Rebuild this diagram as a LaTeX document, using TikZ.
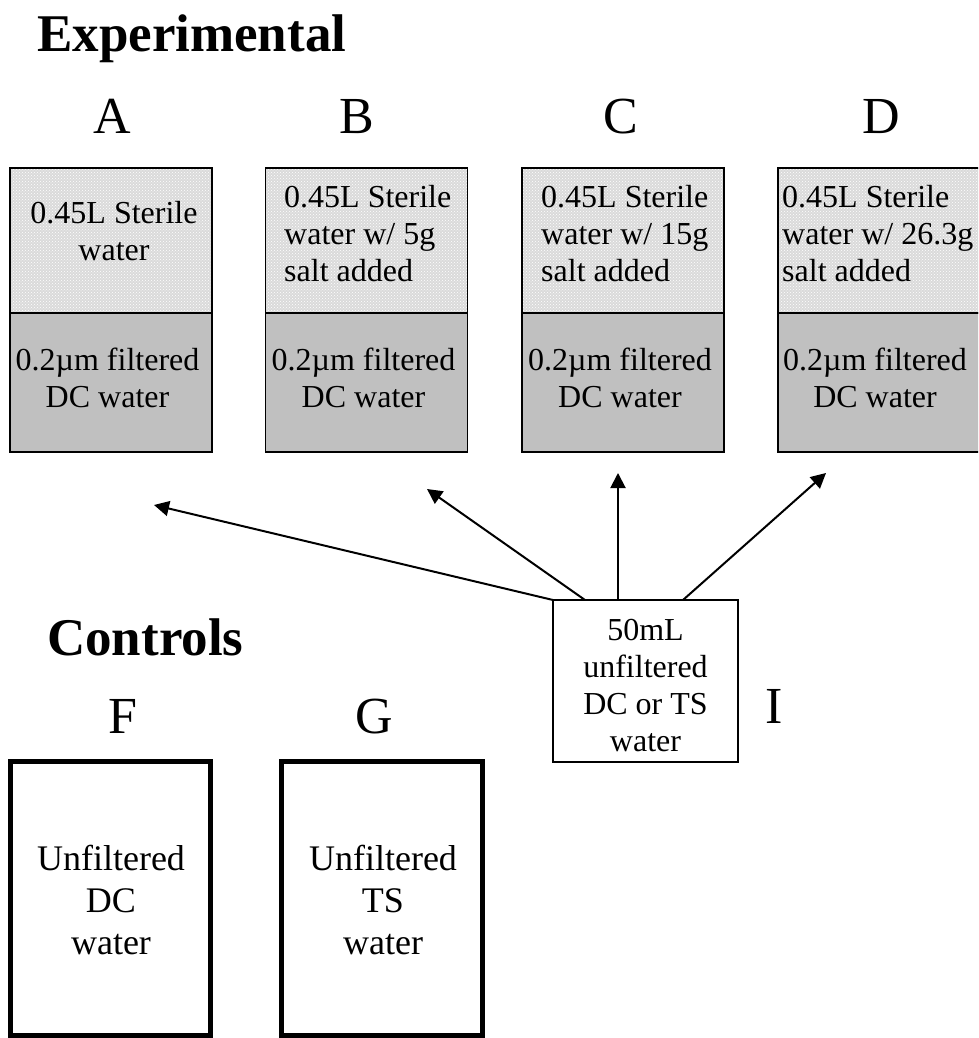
\documentclass[tikz,border=0pt]{standalone}
\usepackage{fontspec}
\setmainfont{Liberation Serif}
\usetikzlibrary{arrows.meta,patterns}
\newcommand{\myst}{\rule{0pt}{24pt}}
\newcommand{\mystb}{\rule{0pt}{27pt}}
\definecolor{darkfill}{RGB}{192,192,192}
\definecolor{lightfill}{RGB}{218,218,218}
\begin{document}
\begin{tikzpicture}[x=1pt,y=-1pt,
  upbox/.style={draw, line width=1.6pt, preaction={fill=lightfill}, pattern=crosshatch dots, pattern color=white,
    minimum width=202pt, minimum height=145pt, inner sep=0pt, outer sep=0pt},
  lowbox/.style={draw, line width=1.6pt, fill=darkfill,
    minimum width=202pt, minimum height=139pt, inner sep=0pt, outer sep=0pt},
  ctrlbox/.style={draw, line width=5pt, minimum width=200pt, minimum height=273.5pt, inner sep=0pt, outer sep=0pt},
  srcbox/.style={draw, line width=2pt, minimum width=185pt, minimum height=162pt, inner sep=0pt, outer sep=0pt},
  boxtxt/.style={font=\fontsize{32}{37}\selectfont, inner sep=0pt},
  ctrltxt/.style={font=\fontsize{36}{42}\selectfont, inner sep=0pt, align=center, anchor=north},
  letter/.style={font=\fontsize{52}{60}\selectfont, inner sep=0pt, anchor=base},
  heading/.style={font=\fontsize{53}{60}\selectfont\bfseries, inner sep=0pt, anchor=base west},
  arr/.style={line width=2pt, -{Triangle[length=15pt,width=15pt]}}
]
\useasboundingbox (0,0) rectangle (978,1038);
\clip (0,0) rectangle (978,1038);

% headings
\node[heading] (hexp) at (37,52) {Experimental};
\node[heading] (hctl) at (47,655) {Controls};

% letters
\node[letter] (lA) at (112,133) {A};
\node[letter] (lB) at (357,133) {B};
\node[letter] (lC) at (621,133) {C};
\node[letter] (lD) at (881,133) {D};
\node[letter] (lF) at (123,733) {F};
\node[letter] (lG) at (374,733) {G};
\node[letter] (lI) at (774,723) {I};

% experimental boxes
\node[upbox] (Au) at (111,240.5) {};
\node[lowbox] (Al) at (111,382.5) {};
\node[upbox] (Bu) at (366.5,240.5) {};
\node[lowbox] (Bl) at (366.5,382.5) {};
\node[upbox] (Cu) at (623,240.5) {};
\node[lowbox] (Cl) at (623,382.5) {};
\node[upbox] (Du) at (879,240.5) {};
\node[lowbox] (Dl) at (879,382.5) {};

% texts in experimental boxes
\node[boxtxt, align=center, anchor=north] (Aut) at (114,199) {\myst 0.45L Sterile\\water};
\node[boxtxt, align=center, anchor=north] (Alt) at (107.5,346) {\myst 0.2µm filtered\\DC water};
\node[boxtxt, align=left, anchor=north west] (But) at (284,183) {\myst 0.45L Sterile\\water w/ 5g\\salt added};
\node[boxtxt, align=center, anchor=north] (Blt) at (363.5,346) {\myst 0.2µm filtered\\DC water};
\node[boxtxt, align=left, anchor=north west] (Cut) at (541,183) {\myst 0.45L Sterile\\water w/ 15g\\salt added};
\node[boxtxt, align=center, anchor=north] (Clt) at (620,346) {\myst 0.2µm filtered\\DC water};
\node[boxtxt, align=left, anchor=north west] (Dut) at (782,183) {\myst 0.45L Sterile\\water w/ 26.3g\\salt added};
\node[boxtxt, align=center, anchor=north] (Dlt) at (875,346) {\myst 0.2µm filtered\\DC water};

% source box
\node[srcbox] (I) at (645.5,681) {};
\node[boxtxt, align=center, anchor=north] (It) at (645.5,616) {\myst 50mL\\unfiltered\\DC or TS\\water};

% arrow ends
\coordinate (tA) at (154,505);
\coordinate (tB) at (427,489);
\coordinate (tC) at (618,473);
\coordinate (tD) at (826,473);
\draw[arr] (I.north west) -- (tA);
\draw[arr] ([xshift=32pt]I.north west) -- (tB);
\draw[arr] ([xshift=65pt]I.north west) -- (tC);
\draw[arr] ([xshift=130pt]I.north west) -- (tD);

% control boxes
\node[ctrlbox] (F) at (110.5,898.25) {};
\node[ctrlbox, minimum width=201pt] (G) at (382,898.25) {};
\node[ctrltxt] (Ft) at (111,843) {\mystb Unfiltered\\DC\\water};
\node[ctrltxt] (Gt) at (383,843) {\mystb Unfiltered\\TS\\water};
\end{tikzpicture}
\end{document}
